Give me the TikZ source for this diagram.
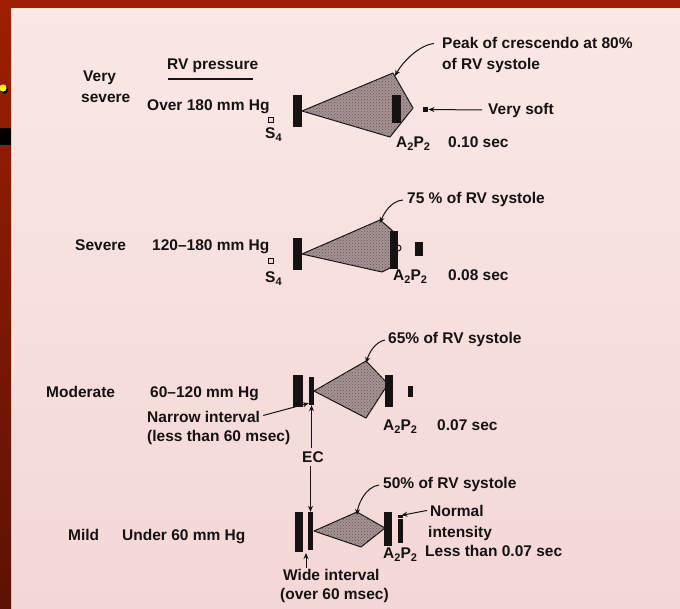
\documentclass[tikz,border=0pt]{standalone}
\usepackage{fontspec}
\setmainfont{Liberation Sans}
\usetikzlibrary{arrows.meta,patterns}
\definecolor{paper}{RGB}{243,215,213}
\definecolor{paperlt}{RGB}{250,232,229}
\definecolor{frame}{RGB}{160,30,4}
\definecolor{framedark}{RGB}{92,18,4}
\definecolor{ink}{RGB}{22,18,18}
\definecolor{stip}{RGB}{168,146,146}
\newcommand\sub[1]{\raisebox{-0.45ex}{\fontsize{11}{11}\selectfont #1}}
\begin{document}
\begin{tikzpicture}[x=1pt,y=-1pt,
  lbl/.style={font=\bfseries\fontsize{15.5}{18}\selectfont, text=ink, inner sep=0pt, anchor=base west},
  barbox/.style={fill=ink, draw=none, inner sep=0pt},
  cone/.style={fill=stip, draw=ink, line width=1pt, line join=round},
  dots/.style={pattern=crosshatch dots, pattern color=ink!70},
  sq/.style={draw=ink, line width=0.8pt, fill=paper, inner sep=0pt, minimum size=5pt},
  pt/.style={-{Stealth[length=6pt,width=5pt]}, draw=ink, line width=1pt},
  ]
\useasboundingbox (0,0) rectangle (680,608);
% paper and frame
\shade[top color=paperlt, bottom color=paper] (0,0) rectangle (680,608);
\fill[frame] (0,0) rectangle (680,8);
\shade[top color=frame, bottom color=framedark] (0,0) rectangle (11,608);
\fill[black] (0,128) rectangle (11,145);
\fill[black] (4.5,90) circle (3.8);
\fill[yellow!85!white] (3,88) circle (3.6);

% ---------- Row 1: very severe ----------
\node[lbl] (very) at (83,81) {Very};
\node[lbl] (sev1) at (81,102) {severe};
\node[lbl] (rvp) at (167,69) {RV pressure};
\coordinate (ul1) at (168,79); \coordinate (ul2) at (253,79);
\draw[ink, line width=2pt] (ul1) -- (ul2);
\node[lbl] (p1) at (147,110) {Over 180 mm Hg};
\node[sq] (sqA) at (270.5,119.5) {};
\node[lbl] (s4A) at (265,138) {S\sub{4}};
\node[barbox, minimum width=9pt, minimum height=32pt] (lA) at (297.5,111) {};
\coordinate (c1a) at (302,111); \coordinate (c1b) at (393,73);
\coordinate (c1c) at (413,108); \coordinate (c1d) at (390,137);
\filldraw[cone] (c1a) -- (c1b) -- (c1c) -- (c1d) -- cycle;
\path[dots] (c1a) -- (c1b) -- (c1c) -- (c1d) -- cycle;
\node[barbox, minimum width=9pt, minimum height=28pt] (rA) at (396.5,109) {};
\node[barbox, minimum size=5.5pt] (ssA) at (425.5,109.5) {};
\node[lbl] (vsoft) at (488,114) {Very soft};
\draw[pt] ([xshift=-6pt]vsoft.west) -- (ssA.east);
\node[lbl] (apA) at (396,147) {A\sub{2}P\sub{2}};
\node[lbl] (tA) at (448,147) {0.10 sec};
\node[lbl] (peak) at (442,48) {Peak of crescendo at 80\%};
\node[lbl] (peak2) at (442,69) {of RV systole};
\draw[pt] ([xshift=-8pt,yshift=-1pt]peak.west) .. controls +(-16,2) and +(7,-13) .. ([xshift=2pt,yshift=-3pt]c1b);

% ---------- Row 2: severe ----------
\node[lbl] (sev) at (75,250) {Severe};
\node[lbl] (p2) at (152,250) {120--180 mm Hg};
\node[sq] (sqB) at (270.5,260.5) {};
\node[lbl] (s4B) at (265,282) {S\sub{4}};
\node[barbox, minimum width=9pt, minimum height=32pt] (lB) at (297.5,254) {};
\coordinate (c2a) at (302,254); \coordinate (c2b) at (380,220);
\coordinate (c2c) at (394,232); \coordinate (c2d) at (394,266);
\coordinate (c2e) at (382,272);
\filldraw[cone] (c2a) -- (c2b) -- (c2c) -- (c2d) -- (c2e) -- cycle;
\path[dots] (c2a) -- (c2b) -- (c2c) -- (c2d) -- (c2e) -- cycle;
\node[barbox, minimum width=8pt, minimum height=38pt] (rB) at (394,250) {};
\draw[ink, line width=1pt] (398,245) arc[start angle=-90, end angle=90, radius=3];
\node[barbox, minimum width=8pt, minimum height=14pt] (sbB) at (419,249) {};
\node[lbl] (pctB) at (407,203) {75 \% of RV systole};
\draw[pt] ([xshift=-4pt,yshift=-1pt]pctB.west) .. controls +(-12,1) and +(4,-10) .. ([yshift=-3pt]c2b);
\node[lbl] (apB) at (393,280) {A\sub{2}P\sub{2}};
\node[lbl] (tB) at (448,280) {0.08 sec};

% ---------- Row 3: moderate ----------
\node[lbl] (mod) at (46,397) {Moderate};
\node[lbl] (p3) at (150,397) {60--120 mm Hg};
\node[barbox, minimum width=10pt, minimum height=32pt] (lC) at (298,391) {};
\node[barbox, minimum width=5pt, minimum height=28pt] (tC) at (311.5,391) {};
\coordinate (c3a) at (314,391); \coordinate (c3b) at (366,361);
\coordinate (c3c) at (388,384); \coordinate (c3d) at (366,418);
\filldraw[cone] (c3a) -- (c3b) -- (c3c) -- (c3d) -- cycle;
\path[dots] (c3a) -- (c3b) -- (c3c) -- (c3d) -- cycle;
\node[barbox, minimum width=8pt, minimum height=32pt] (rC) at (389,391) {};
\node[barbox, minimum width=5pt, minimum height=11pt] (sbC) at (410.5,391.5) {};
\node[lbl] (pctC) at (388,343) {65\% of RV systole};
\draw[pt] ([xshift=-3pt,yshift=-1pt]pctC.west) .. controls +(-10,2) and +(3,-10) .. ([yshift=-2pt]c3b);
\node[lbl] (nar) at (147,422) {Narrow interval};
\node[lbl] (less) at (147,441) {(less than 60 msec)};
\draw[pt] ([xshift=3pt,yshift=1pt]nar.east) -- ([yshift=2pt]tC.south west);
\node[lbl] (apC) at (383,430) {A\sub{2}P\sub{2}};
\node[lbl] (tC2) at (437,430) {0.07 sec};
\node[lbl, anchor=center] (ec) at (313,457) {EC};
\draw[pt] (ec.north -| tC.south) ++(0,-3) -- (tC.south);

% ---------- Row 4: mild ----------
\node[lbl] (mild) at (68,540) {Mild};
\node[lbl] (p4) at (122,540) {Under 60 mm Hg};
\node[barbox, minimum width=8pt, minimum height=40pt] (lD) at (299,532) {};
\node[barbox, minimum width=5pt, minimum height=38pt] (tD) at (310.5,531) {};
\draw[pt] (ec.south -| tD.north) ++(0,3) -- (tD.north);
\coordinate (c4a) at (314,531); \coordinate (c4b) at (357,512);
\coordinate (c4c) at (385,528); \coordinate (c4d) at (361,547);
\filldraw[cone] (c4a) -- (c4b) -- (c4c) -- (c4d) -- cycle;
\path[dots] (c4a) -- (c4b) -- (c4c) -- (c4d) -- cycle;
\node[barbox, minimum width=8pt, minimum height=34pt] (rD) at (388,529) {};
\node[barbox, minimum width=5pt, minimum height=24pt] (iD) at (400.5,531) {};
\node[barbox, minimum width=5pt, minimum height=3pt] (iDdot) at (400.5,516) {};
\node[lbl] (pctD) at (383,488) {50\% of RV systole};
\draw[pt] ([xshift=-4pt,yshift=-1pt]pctD.west) .. controls +(-14,2) and +(1,-10) .. ([yshift=-3pt]c4b);
\node[lbl] (norm) at (430,516) {Normal};
\node[lbl] (inten) at (428,537) {intensity};
\draw[pt] ([xshift=-3pt]norm.west) -- ([xshift=1pt,yshift=-1pt]iDdot.north);
\node[lbl] (apD) at (383,558) {A\sub{2}P\sub{2}};
\node[lbl] (tD2) at (425,556) {Less than 0.07 sec};
\node[lbl] (wide) at (283,580) {Wide interval};
\node[lbl] (over) at (280,599) {(over 60 msec)};
\coordinate (wtip) at (306,553);
\draw[pt] (wide.north -| wtip) ++(0,-1) -- (wtip);
\end{tikzpicture}
\end{document}
